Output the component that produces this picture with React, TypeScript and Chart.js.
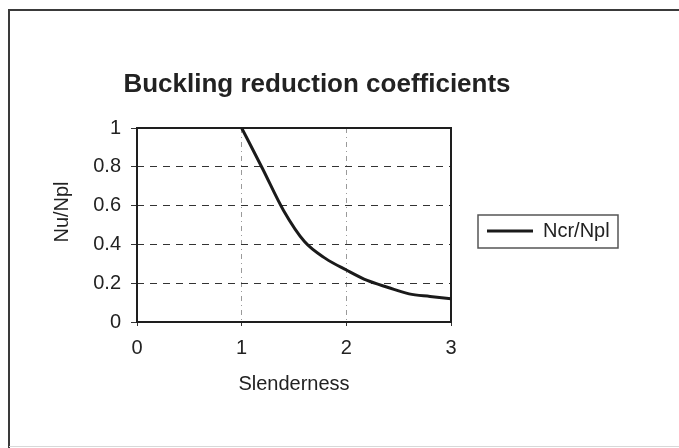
import React, { useEffect, useRef } from "react";
import { Chart, registerables } from "chart.js";

Chart.register(...registerables);

// Buckling curve: reduction coefficient against slenderness
const slenderness = [1.0, 1.2, 1.4, 1.6, 1.8, 2.0, 2.2, 2.4, 2.6, 2.8, 3.0];
const ncrNpl = [1.0, 0.79, 0.575, 0.415, 0.328, 0.268, 0.214, 0.178, 0.145, 0.132, 0.12];

const xTickLabels = ["0", "1", "2", "3"];
const yTickLabels = ["0", "0.2", "0.4", "0.6", "0.8", "1"];

const chartTitle = "Buckling reduction coefficients";
const xAxisTitle = "Slenderness";
const yAxisTitle = "Nu/Npl";
const seriesName = "Ncr/Npl";

const FONT = "'Liberation Sans', Arial, sans-serif";
const INK = "#222";

const decorations = {
  id: "decorations",
  beforeDatasetsDraw(chart: any) {
    const { ctx, chartArea } = chart;
    ctx.save();
    ctx.strokeStyle = "#1e1e1e";
    ctx.lineWidth = 2;
    ctx.strokeRect(chartArea.left, chartArea.top, chartArea.right - chartArea.left, chartArea.bottom - chartArea.top);
    ctx.restore();
  },
  afterDraw(chart: any) {
    const { ctx, chartArea } = chart;
    ctx.save();

    // outer border of the chart object
    ctx.strokeStyle = "#3a3a3a";
    ctx.lineWidth = 2;
    ctx.beginPath();
    ctx.moveTo(9, 448);
    ctx.lineTo(9, 10);
    ctx.lineTo(679, 10);
    ctx.stroke();
    ctx.strokeStyle = "#d8d8d8";
    ctx.lineWidth = 1;
    ctx.beginPath();
    ctx.moveTo(9, 446.5);
    ctx.lineTo(679, 446.5);
    ctx.stroke();

    ctx.fillStyle = INK;

    // title
    ctx.font = `bold 26px ${FONT}`;
    ctx.textAlign = "center";
    ctx.textBaseline = "alphabetic";
    ctx.fillText(chartTitle, 317, 92);

    // axis titles
    ctx.font = `20px ${FONT}`;
    ctx.textBaseline = "middle";
    ctx.fillText(xAxisTitle, (chartArea.left + chartArea.right) / 2, 384);
    ctx.save();
    ctx.translate(62, 212);
    ctx.rotate(-Math.PI / 2);
    ctx.fillText(yAxisTitle, 0, 0);
    ctx.restore();

    // legend
    const ds = chart.data.datasets[0];
    ctx.strokeStyle = "#555";
    ctx.lineWidth = 1.5;
    ctx.strokeRect(478, 215, 140, 33);
    ctx.strokeStyle = ds.borderColor;
    ctx.lineWidth = 3;
    ctx.beginPath();
    ctx.moveTo(487, 231);
    ctx.lineTo(533, 231);
    ctx.stroke();
    ctx.textAlign = "left";
    ctx.fillText(ds.label, 543, 231);

    ctx.restore();
  },
};

export default function App() {
  const canvasRef = useRef<HTMLCanvasElement | null>(null);

  useEffect(() => {
    const canvas = canvasRef.current;
    if (!canvas) return;
    const chart = new Chart(canvas, {
      type: "line",
      data: {
        datasets: [
          {
            label: seriesName,
            data: slenderness.map((x, i) => ({ x, y: ncrNpl[i] })),
            borderColor: "#1a1a1a",
            borderWidth: 3,
            pointRadius: 0,
            fill: false,
            cubicInterpolationMode: "monotone",
          },
        ],
      },
      options: {
        animation: false,
        responsive: false,
        devicePixelRatio: 1,
        layout: { padding: { left: 0, right: 228, top: 128, bottom: 0 } },
        plugins: {
          legend: { display: false },
          title: { display: false },
          tooltip: { enabled: false },
        },
        scales: {
          x: {
            type: "linear",
            min: 0,
            max: 3,
            afterFit(scale: any) {
              scale.height = 126;
            },
            ticks: {
              stepSize: 1,
              color: INK,
              font: { family: FONT, size: 20 },
              padding: 10,
              maxRotation: 0,
              callback: (_v: any, i: number) => xTickLabels[i],
            },
            grid: {
              color: (c: any) =>
                c.tick && (c.tick.value === 1 || c.tick.value === 2) ? "#9a9a9a" : "rgba(0,0,0,0)",
              lineWidth: 1,
              drawTicks: true,
              tickLength: 4,
              tickColor: "#333",
            },
            border: { display: false, dash: [5, 4, 1, 4] },
          },
          y: {
            type: "linear",
            min: 0,
            max: 1,
            afterFit(scale: any) {
              scale.width = 137;
            },
            ticks: {
              stepSize: 0.2,
              color: INK,
              font: { family: FONT, size: 20 },
              padding: 10,
              callback: (_v: any, i: number) => yTickLabels[i],
            },
            grid: {
              color: (c: any) =>
                c.tick && (c.tick.value === 0 || c.tick.value === 1) ? "rgba(0,0,0,0)" : "#333",
              lineWidth: 1,
              drawTicks: true,
              tickLength: 6,
              tickColor: "#333",
            },
            border: { display: false, dash: [7, 6] },
          },
        },
      },
      plugins: [decorations],
    });
    return () => chart.destroy();
  }, []);

  return (
    <div style={{ position: "absolute", left: 0, top: 0, width: 679, height: 448, background: "#fff" }}>
      <canvas ref={canvasRef} width={679} height={448} style={{ display: "block" }} />
    </div>
  );
}
